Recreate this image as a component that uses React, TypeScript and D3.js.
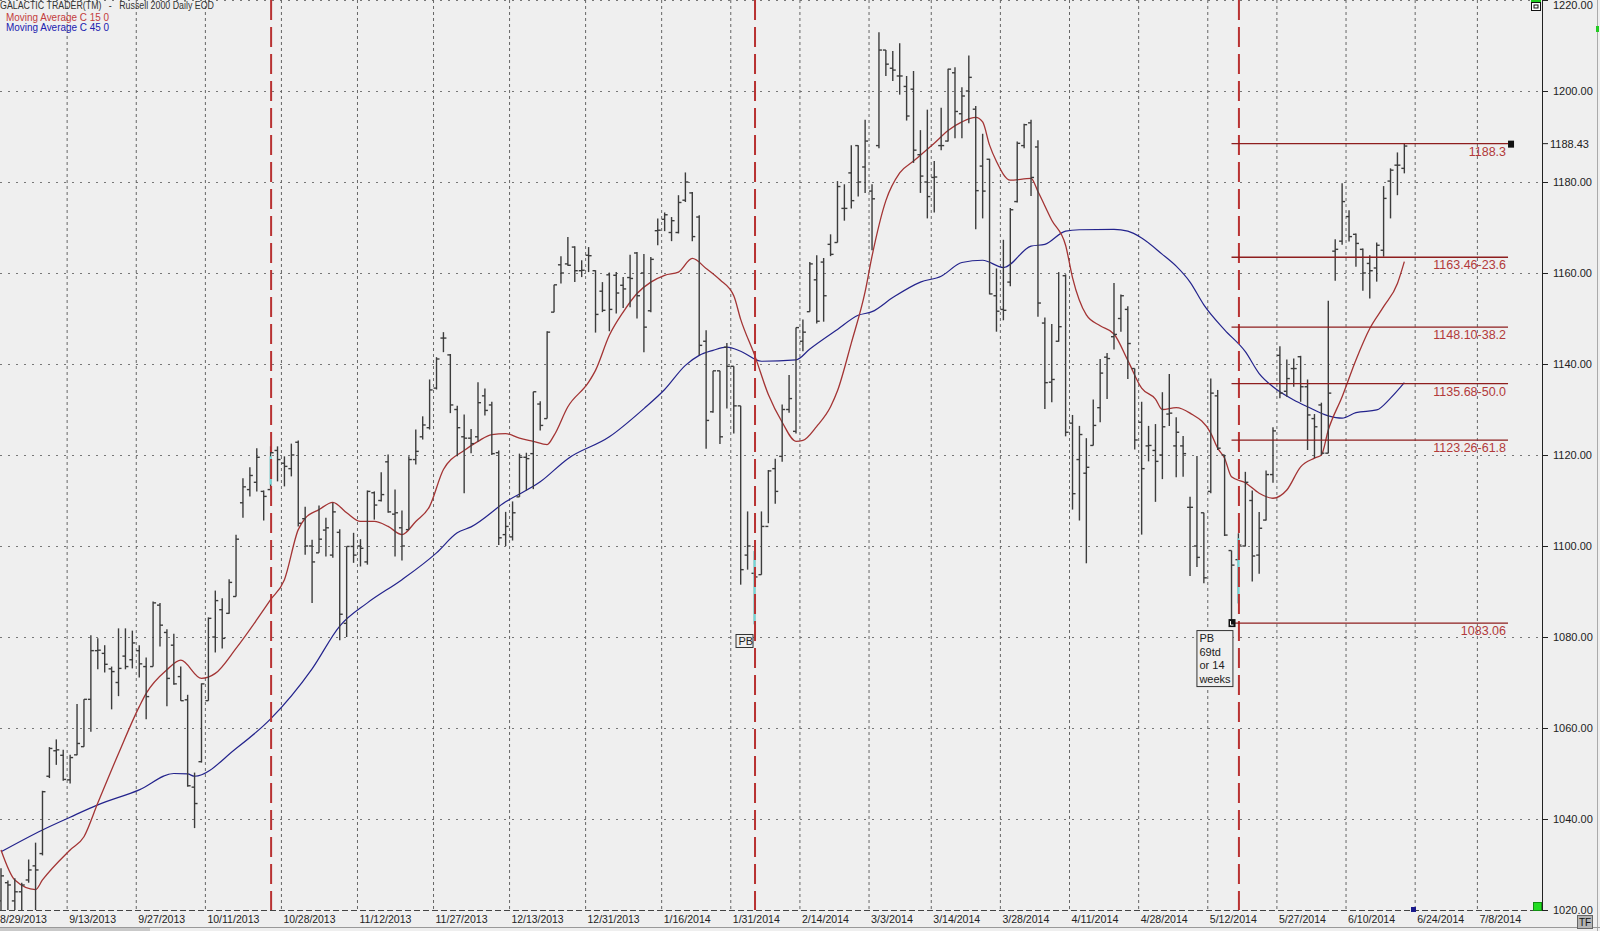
import React from "react";
import * as d3 from "d3";

// Russell 2000 daily bars, 8/29/2013 .. 6/20/2014 (bar index 0..203)
const opens = [
  1022, 1026, 1022, 1024, 1026.6, 1029.7, 1032.4, 1049.4, 1055, 1054,
  1048.6, 1054.1, 1055.9, 1066.3, 1077, 1076.4, 1073, 1070, 1075.8, 1075,
  1077, 1073.5, 1073.5, 1087, 1081, 1078.2, 1071.3, 1066.2, 1047, 1052.6,
  1066, 1080, 1086, 1085.2, 1088.9, 1109.5, 1112.4, 1114, 1112, 1112.4,
  1121, 1118.2, 1117, 1122.8, 1106, 1100, 1098.5, 1103.5, 1098, 1103,
  1083, 1099.9, 1100, 1096.5, 1111.7, 1110, 1118.5, 1107, 1104, 1103.6,
  1119, 1124, 1126, 1134.7, 1145.7, 1142, 1130, 1124, 1123.7, 1124,
  1133, 1131, 1120.5, 1102.5, 1102, 1110.8, 1119.5, 1120.3, 1131.2, 1128,
  1151.4, 1161.8, 1162, 1165.7, 1160.5, 1163.9, 1160.5, 1156, 1159.6, 1159.5,
  1157.3, 1159, 1164.4, 1160, 1151.7, 1169.3, 1171.8, 1168.9, 1168.9, 1176,
  1177.6, 1172.3, 1145, 1129.5, 1138.5, 1143.7, 1139.5, 1130.8, 1098, 1094,
  1093.7, 1104.3, 1117, 1119.7, 1130, 1125.2, 1145, 1151.5, 1158.5, 1162.4,
  1166.3, 1166.7, 1174.2, 1182, 1188, 1183.3, 1178, 1188, 1209, 1205,
  1203.3, 1201, 1200.4, 1186, 1180, 1181, 1188, 1189, 1204, 1195,
  1200, 1196, 1183.5, 1185, 1155, 1152, 1158, 1175.7, 1188, 1193,
  1187.7, 1149, 1136, 1145, 1159.4, 1127, 1119, 1116, 1122.1, 1130.4,
  1141.5, 1146, 1150, 1152, 1139, 1127.2, 1122, 1121, 1120, 1129,
  1122, 1122, 1108.5, 1100, 1107.3, 1112, 1133, 1120, 1099, 1097,
  1100, 1110, 1098, 1105.7, 1115.7, 1141.9, 1134, 1139, 1141.6, 1135,
  1128, 1131, 1120.4, 1164.8, 1167, 1172.4, 1168.5, 1165.2, 1162.1, 1161.1,
  1165, 1180.2, 1183.7, 1183,
];
const highs = [
  1029.2, 1026.5, 1027, 1026, 1031.1, 1034.8, 1046.2, 1055.8, 1057.5, 1055.2,
  1054.1, 1065.3, 1066.3, 1080.4, 1079.7, 1078.2, 1073.5, 1081.9, 1081.9, 1081.4,
  1078.2, 1075.5, 1087.8, 1087.5, 1081.7, 1080.7, 1073.5, 1067.3, 1050.2, 1069.8,
  1084.3, 1090.2, 1088.5, 1092.7, 1102.5, 1114.9, 1117.3, 1121.5, 1112.2, 1121.9,
  1121.9, 1119.7, 1122.5, 1123.2, 1108.6, 1101.4, 1108.9, 1106.2, 1109.5, 1103.7,
  1099.9, 1102.9, 1101.5, 1112.2, 1112, 1116.2, 1120.1, 1112.4, 1107.8, 1119.7,
  1125.6, 1128.5, 1136.6, 1141.5, 1147, 1142.2, 1130.8, 1128.9, 1125.7, 1136,
  1134.6, 1131.7, 1121, 1107.5, 1109.8, 1120.3, 1120.5, 1133.9, 1131.8, 1147.2,
  1157.4, 1163.7, 1167.9, 1165.9, 1162.8, 1165.7, 1160.6, 1158, 1160.1, 1160.2,
  1159.1, 1164, 1164.6, 1164.2, 1163.5, 1172, 1173.3, 1172.3, 1177.1, 1182.1,
  1177.8, 1172.7, 1147.4, 1138.5, 1138.5, 1144.6, 1139.5, 1130.8, 1107.6, 1098.9,
  1107.6, 1116.7, 1119.2, 1131.1, 1137.6, 1148, 1149.8, 1162.4, 1163.9, 1163.3,
  1168.5, 1180.2, 1179.5, 1188.1, 1188.1, 1193.7, 1179.5, 1212.9, 1209, 1208.8,
  1210.5, 1203.3, 1204.4, 1191.4, 1195.9, 1184.6, 1196.3, 1204.9, 1205.2, 1200.8,
  1207.8, 1196.7, 1190.6, 1185.1, 1161, 1167.3, 1174.3, 1188.9, 1192.8, 1193.7,
  1189.2, 1150.2, 1148.8, 1160.2, 1159.7, 1128.8, 1126.4, 1123.7, 1132.2, 1141.1,
  1142.4, 1157.8, 1155.3, 1152.7, 1139, 1131.7, 1126.4, 1126.8, 1133.8, 1137.8,
  1128.3, 1124.2, 1110.8, 1119.8, 1107.3, 1136.8, 1134.3, 1120, 1099, 1102.8,
  1116.3, 1112.2, 1107.5, 1116.6, 1126.1, 1143.9, 1141, 1141.2, 1141.8, 1136.6,
  1129, 1131.5, 1153.9, 1167.4, 1179.7, 1173.8, 1168.7, 1165.4, 1163.9, 1166.7,
  1179.1, 1183, 1186.5, 1188.43,
];
const lows = [
  1018, 1018, 1018, 1018, 1026, 1019, 1032, 1049, 1051.9, 1048.4,
  1047.8, 1054, 1055.9, 1059.2, 1072.9, 1072.2, 1064.1, 1067, 1072.9, 1073.1,
  1071.1, 1061.9, 1073.5, 1077.9, 1064.8, 1069.5, 1066, 1047.1, 1038, 1052.4,
  1066, 1076.6, 1077.5, 1085.1, 1088.9, 1106.2, 1110.9, 1112, 1105.6, 1112.4,
  1114.2, 1113.1, 1115.3, 1104.3, 1098.1, 1087.5, 1098.5, 1097.7, 1097.4, 1079.3,
  1080, 1096.3, 1095.5, 1095.9, 1105.8, 1109.8, 1107.3, 1097.7, 1096.8, 1103.6,
  1117.9, 1123.4, 1125.6, 1134.4, 1142.6, 1129.2, 1119.7, 1111.6, 1120.4, 1122.9,
  1128.7, 1120, 1100.2, 1100, 1101.2, 1110.8, 1112.2, 1112.5, 1125.4, 1128,
  1151.4, 1157.7, 1161.6, 1158, 1159.1, 1160.2, 1146.9, 1151.4, 1147.2, 1151.1,
  1152.3, 1152.5, 1150, 1142.6, 1151.4, 1166.1, 1169.2, 1167, 1168.7, 1175.6,
  1167, 1141.9, 1121.4, 1129.3, 1122.4, 1130.2, 1124.7, 1091.5, 1094.8, 1082.8,
  1093.7, 1105, 1109.3, 1118.5, 1129.3, 1124.7, 1142.8, 1151.5, 1148.9, 1149.3,
  1163.7, 1166.7, 1171.5, 1174.2, 1176.8, 1177.6, 1165, 1187.4, 1203.3, 1202.2,
  1199.2, 1193.5, 1184.2, 1177.6, 1172, 1173.3, 1187, 1188.9, 1189.6, 1189.6,
  1192.9, 1169.6, 1172, 1155.3, 1147.1, 1149.6, 1157.1, 1175.5, 1187.4, 1176.9,
  1150.4, 1130.1, 1131.6, 1144.9, 1124.1, 1108, 1105.6, 1096.2, 1122.1, 1127.2,
  1132.3, 1143.2, 1147.1, 1136.7, 1121.2, 1102.5, 1118.6, 1109.7, 1114.7, 1126.4,
  1115.1, 1115.2, 1093.4, 1095.4, 1091.8, 1111.6, 1121.1, 1102.2, 1083.06, 1087.4,
  1099.9, 1092.2, 1093.9, 1105.6, 1113.9, 1132.5, 1132.8, 1135, 1131.7, 1121.1,
  1119.3, 1120, 1120.4, 1158.3, 1166.2, 1166.9, 1161.4, 1156.1, 1154.4, 1158.1,
  1163.6, 1172, 1177.1, 1181.9,
];
const closes = [
  1027.5, 1025.5, 1024, 1025.5, 1028.8, 1028.8, 1046, 1055.5, 1055.2, 1048.7,
  1053.5, 1056.6, 1066.3, 1077, 1077.1, 1074, 1072.4, 1073.1, 1073.5, 1078.7,
  1074.1, 1066.9, 1087.5, 1082.6, 1070.9, 1069.7, 1066, 1047.3, 1043.4, 1069.7,
  1084.1, 1088, 1079.7, 1092, 1101.5, 1113, 1115.5, 1119.5, 1110.9, 1120.5,
  1119, 1117.5, 1120, 1105, 1100, 1096.5, 1101.5, 1104, 1107.5, 1085,
  1099.9, 1098, 1099.5, 1112, 1109, 1111.3, 1107.5, 1107.3, 1100, 1119,
  1120.8, 1126.6, 1134.3, 1141.1, 1145.7, 1131, 1126, 1123.7, 1122.5, 1131.5,
  1129.8, 1120.3, 1101.8, 1104.3, 1107.3, 1119.5, 1119.2, 1133.9, 1126.5, 1147,
  1157.4, 1160, 1161.7, 1160.5, 1160.6, 1163.8, 1150.9, 1151.8, 1152, 1155.6,
  1156.5, 1158.8, 1155, 1148.1, 1163, 1169.4, 1172.8, 1171.5, 1175.5, 1180,
  1168, 1144.1, 1127.6, 1138.5, 1124, 1139.5, 1130.8, 1094.8, 1100, 1093.2,
  1104.3, 1116.5, 1112, 1130, 1132.4, 1148, 1147, 1162, 1149.4, 1155,
  1164.1, 1179, 1174.2, 1175.9, 1180, 1189, 1176.3, 1209, 1205.9, 1204.6,
  1203.3, 1194.5, 1187, 1181.3, 1176.8, 1181.1, 1188, 1204.8, 1195.5, 1198.9,
  1203, 1178.1, 1178, 1155.4, 1151.6, 1151.8, 1173.9, 1188.5, 1192.6, 1181,
  1153.4, 1135.9, 1136.6, 1148.2, 1125, 1111.5, 1124.5, 1117.3, 1126.5, 1138,
  1141.2, 1146.5, 1155, 1144.5, 1123.3, 1117, 1122.1, 1118.6, 1126.2, 1129.2,
  1125, 1120.3, 1108.5, 1097.5, 1093, 1133.6, 1121.5, 1102.4, 1095.8, 1100.2,
  1114, 1097.8, 1103.9, 1115.7, 1125.3, 1133.6, 1136.8, 1139, 1135, 1128.8,
  1126.2, 1120.4, 1133.6, 1165.2, 1175.7, 1168, 1166.5, 1160, 1160.5, 1166.1,
  1176.4, 1182.6, 1183.7, 1187.9,
];

// moving averages at sample bars
const ma15Bars = [
  0, 2, 5, 6, 10, 12, 14, 17, 20, 21, 24, 26, 29, 31, 34, 37, 39, 41, 43, 44,
  46, 48, 50, 52, 54, 56, 58, 60, 62, 64, 67, 69, 71, 73, 75, 77, 79, 80, 82, 85,
  86, 88, 90, 92, 94, 96, 98, 100, 102, 104, 106, 107, 109, 111, 113, 115, 116, 118, 120, 121,
  123, 125, 126, 128, 130, 132, 135, 137, 139, 141, 142, 143, 144, 146, 149, 150, 152, 154, 155, 157,
  159, 161, 163, 165, 167, 168, 170, 172, 175, 176, 177, 178, 180, 182, 184, 186, 188, 190, 191, 192,
  194, 196, 198, 200, 202, 203,
];
const ma15Vals = [
  1033.2, 1026.6, 1024.5, 1026.6, 1033.2, 1036.1, 1043.5, 1054.4, 1064.7, 1067.6, 1072.8, 1074.9, 1070.9, 1072, 1077.5, 1083.8, 1088.2, 1092.6, 1103.6, 1106.1,
  1108, 1109.6, 1107.3, 1105.4, 1105.4, 1104.3, 1102.5, 1105.4, 1108.7, 1116.8, 1121, 1123, 1124.5, 1124.7, 1123.7, 1123, 1122.3, 1124.3, 1130.6, 1136,
  1138.6, 1146.3, 1151.4, 1155.5, 1158, 1159.5, 1160.2, 1163.2, 1161, 1158.5, 1155, 1149.8, 1142, 1133.3, 1127.2, 1123, 1123.2, 1126.3, 1130.6, 1134.1,
  1144.6, 1155.9, 1163.7, 1175.9, 1182, 1184.6, 1188.5, 1191.3, 1193.2, 1194.2, 1193.2, 1188.1, 1184.5, 1180.4, 1180.8, 1177.9, 1171.6, 1166.1, 1159, 1150.8,
  1148.4, 1146.6, 1140.8, 1134.7, 1132.3, 1130, 1130.4, 1129.2, 1124.8, 1121.5, 1119.3, 1115.2, 1113.9, 1111.6, 1110.5, 1112.3, 1117.4, 1119.3, 1120, 1125.5,
  1132.8, 1140.9, 1147.8, 1152.6, 1157.7, 1162.5,
];
const ma45Bars = [
  0, 6, 10, 14, 20, 25, 27, 28, 34, 39, 45, 49, 53, 58, 63, 66, 68, 73, 78, 82,
  88, 93, 96, 99, 101, 103, 105, 107, 110, 115, 117, 121, 124, 126, 129, 133, 136, 139, 142, 145,
  149, 151, 154, 156, 161, 163, 165, 168, 170, 172, 174, 177, 180, 182, 184, 187, 189, 192, 194, 196,
  199, 201, 203,
];
const ma45Vals = [
  1032.8, 1037.6, 1040.4, 1043.1, 1046.4, 1050, 1049.9, 1049.4, 1055.5, 1062, 1073, 1082.4, 1087.5, 1092.6, 1098.5, 1102.9, 1104.2, 1109.7, 1114.1, 1119.2,
  1124, 1130.2, 1134.4, 1139.7, 1141.9, 1143, 1143.7, 1142.8, 1140.6, 1140.9, 1143.3, 1147.6, 1150.7, 1151.5, 1154.6, 1158, 1159.3, 1162.3, 1162.8, 1161.2,
  1165.9, 1166.3, 1169.2, 1169.5, 1169.6, 1169.2, 1167.7, 1164.1, 1161.5, 1158, 1153, 1147.5, 1142.7, 1137.9, 1135, 1132.1, 1130.6, 1128.6, 1128.1, 1129.3,
  1129.9, 1132.5, 1135.9,
];

const dateLabels = [
  "8/29/2013", "9/13/2013", "9/27/2013", "10/11/2013", "10/28/2013", "11/12/2013",
  "11/27/2013", "12/13/2013", "12/31/2013", "1/16/2014", "1/31/2014", "2/14/2014",
  "3/3/2014", "3/14/2014", "3/28/2014", "4/11/2014", "4/28/2014", "5/12/2014",
  "5/27/2014", "6/10/2014", "6/24/2014", "7/8/2014",
];
const dateBars = [0, 10, 20, 30, 41, 52, 63, 74, 85, 96, 106, 116, 126, 135, 145, 155, 165, 175, 185, 195, 205, 214];

const priceTicks = [1020, 1040, 1060, 1080, 1100, 1120, 1140, 1160, 1180, 1200, 1220];

// cycle bars (pullback lows) with the cyan part of each bar
const cycleBars = [39, 109, 179];
const cyanTop = [1119.7, 1098.9, 1101.7];
const cyanBottom = [1113.5, 1082.8, 1087.4];

const fibLevels = [1188.43, 1163.46, 1148.1, 1135.68, 1123.26, 1083.06];
const fibLabels = ["1188.3", "1163.46-23.6", "1148.10-38.2", "1135.68-50.0", "1123.26-61.8", "1083.06"];
const fibStartBar = 178;
const fibEndBar = 218;
const lastPrice = 1188.43;

const W = 1600;
const H = 931;
const plotRight = 1542;
const plotBottom = 910;
const font = "'Liberation Sans', Arial, sans-serif";

const x = d3.scaleLinear().domain([0, 214]).range([1, 1 + 6.913 * 214]);
const y = d3.scaleLinear().domain([1020, 1220]).range([plotBottom, 0]);

const maLine = d3
  .line<[number, number]>()
  .x((d) => x(d[0]))
  .y((d) => y(d[1]))
  .curve(d3.curveMonotoneX);

const App: React.FC = () => {
  const ma15Path = maLine(ma15Bars.map((b, i) => [b, ma15Vals[i]] as [number, number])) || "";
  const ma45Path = maLine(ma45Bars.map((b, i) => [b, ma45Vals[i]] as [number, number])) || "";

  return (
    <div style={{ position: "absolute", left: 0, top: 0, width: W, height: H, background: "#efefef" }}>
      <svg width={W} height={H} style={{ display: "block", fontFamily: font }}>
        <defs>
          <clipPath id="plot">
            <rect x={0} y={0} width={plotRight} height={plotBottom} />
          </clipPath>
        </defs>
        <rect x={0} y={0} width={W} height={H} fill="#efefef" />

        {/* horizontal grid */}
        {priceTicks.slice(1).map((p) => (
          <line key={p} x1={0} x2={plotRight} y1={y(p) + 0.5} y2={y(p) + 0.5}
            stroke="#777" strokeWidth={1} strokeDasharray="2,6" />
        ))}
        {/* vertical grid */}
        {dateBars.map((b) => (
          <line key={b} x1={x(b) - 3} x2={x(b) - 3} y1={0} y2={plotBottom}
            stroke="#666" strokeWidth={1} strokeDasharray="3,3" />
        ))}
        {/* x axis line */}
        <line x1={0} x2={plotRight} y1={plotBottom + 0.5} y2={plotBottom + 0.5}
          stroke="#444" strokeWidth={1} strokeDasharray="6,3" />
        {/* right border */}
        <line x1={plotRight + 0.5} x2={plotRight + 0.5} y1={0} y2={plotBottom}
          stroke="#222" strokeWidth={1} />

        <g clipPath="url(#plot)">
          {/* moving averages */}
          <path d={ma45Path} fill="none" stroke="#23238c" strokeWidth={1.2} />
          <path d={ma15Path} fill="none" stroke="#a33434" strokeWidth={1.3} />

          {/* OHLC bars */}
          <g stroke="#3c3c3c" strokeWidth={1.4}>
            {highs.map((h, i) => (
              <g key={i}>
                <line x1={x(i)} x2={x(i)} y1={y(h)} y2={y(lows[i])} />
                <line x1={x(i) - 3} x2={x(i)} y1={y(opens[i])} y2={y(opens[i])} />
                <line x1={x(i)} x2={x(i) + 3} y1={y(closes[i])} y2={y(closes[i])} />
              </g>
            ))}
          </g>

          {/* cyan pullback bars */}
          {cycleBars.map((b, i) => (
            <line key={b} x1={x(b)} x2={x(b)} y1={y(cyanTop[i])} y2={y(cyanBottom[i])}
              stroke="#6fd8d8" strokeWidth={2} />
          ))}

          {/* cycle lines */}
          {cycleBars.map((b) => (
            <line key={"c" + b} x1={x(b) + 0.5} x2={x(b) + 0.5} y1={0} y2={plotBottom}
              stroke="#b83232" strokeWidth={2} strokeDasharray="20,7" />
          ))}

          {/* fib retracement levels */}
          {fibLevels.map((f, i) => (
            <g key={f}>
              <line x1={x(fibStartBar)} x2={x(fibEndBar)} y1={y(f)} y2={y(f)}
                stroke="#8e1e1e" strokeWidth={1.4} />
              <text x={x(fibEndBar) - 2} y={y(f) + 12} textAnchor="end" fontSize={12.5}
                fill="#b23a3a">{fibLabels[i]}</text>
            </g>
          ))}
          <rect x={x(fibEndBar)} y={y(fibLevels[0]) - 3} width={6} height={7} fill="#111" />
          <rect x={x(fibStartBar) - 3} y={y(fibLevels[5]) - 4} width={7} height={8} fill="#111" />
          <path d={`M${x(fibStartBar) - 1},${y(fibLevels[5]) - 2}v4h3`} stroke="#fff" strokeWidth={1} fill="none" />

          {/* pullback notes */}
          <g fontSize={11} fill="#222">
            <rect x={x(cycleBars[1]) - 18.5} y={y(1080) - 2.5} width={17} height={13} fill="#efefef"
              stroke="#333" strokeWidth={1} />
            <text x={x(cycleBars[1]) - 16} y={y(1080) + 8}>PB</text>
            <rect x={x(cycleBars[2]) - 41.5} y={y(fibLevels[5]) + 7.5} width={36} height={56} fill="#efefef"
              stroke="#333" strokeWidth={1} />
            <text x={x(cycleBars[2]) - 39} y={y(fibLevels[5]) + 19}>PB</text>
            <text x={x(cycleBars[2]) - 39} y={y(fibLevels[5]) + 32.5}>69td</text>
            <text x={x(cycleBars[2]) - 39} y={y(fibLevels[5]) + 46}>or 14</text>
            <text x={x(cycleBars[2]) - 39} y={y(fibLevels[5]) + 59.5}>weeks</text>
          </g>
        </g>

        {/* right price axis */}
        <g fontSize={11} fill="#222">
          {priceTicks.map((p) => (
            <g key={p}>
              <line x1={plotRight} x2={plotRight + 6} y1={y(p) + 0.5} y2={y(p) + 0.5} stroke="#222" />
              <text x={1553} y={p === 1220 ? 9 : y(p) + 4}>{p.toFixed(2)}</text>
            </g>
          ))}
          <line x1={plotRight} x2={plotRight + 6} y1={y(lastPrice)} y2={y(lastPrice)} stroke="#222" />
          <text x={1550} y={y(lastPrice) + 4}>{lastPrice.toFixed(2)}</text>
        </g>

        {/* date axis */}
        <g fontSize={11} fill="#222">
          {dateLabels.map((d, i) => (
            <text key={d} x={x(dateBars[i]) - 1} y={923} textLength={d.length > 9 ? 52 : d.length > 8 ? 47 : 42}
              lengthAdjust="spacingAndGlyphs">{d}</text>
          ))}
        </g>

        {/* header & legend */}
        <text x={0} y={9} fontSize={10.5} fill="#333" textLength={214} lengthAdjust="spacingAndGlyphs"
          style={{ whiteSpace: "pre" }}>{"GALACTIC TRADER(TM)   -   Russell 2000 Daily EOD"}</text>
        <text x={6} y={21} fontSize={11} fill="#c43c3c" textLength={103} lengthAdjust="spacingAndGlyphs">Moving Average C 15 0</text>
        <text x={6} y={31} fontSize={11} fill="#2020b0" textLength={103} lengthAdjust="spacingAndGlyphs">Moving Average C 45 0</text>

        {/* chart widgets */}
        <rect x={1531} y={0} width={10} height={2} fill="#22cc22" />
        <rect x={1531.5} y={2.5} width={9} height={8} fill="#fff" stroke="#111" />
        <rect x={1534} y={5} width={4} height={3} fill="none" stroke="#111" />
        <rect x={1533.5} y={902.5} width={8} height={8} fill="#22dd22" stroke="#129012" />
        <rect x={1411} y={907} width={5} height={5} fill="#1a1a8c" />
        <line x1={1597.5} x2={1597.5} y1={0} y2={H} stroke="#aaa" />
        <rect x={1596} y={26} width={3} height={6} fill="#2c2" />
        <line x1={0} x2={W} y1={927.5} y2={927.5} stroke="#999" />
        <rect x={0} y={928} width={150} height={3} fill="#c9c9c9" />
        <rect x={1577.5} y={915.5} width={15} height={13} fill="#b4b4b4" stroke="#666" />
        <text x={1585} y={926} fontSize={10} textAnchor="middle" fill="#111">TF</text>
      </svg>
    </div>
  );
};

export default App;
